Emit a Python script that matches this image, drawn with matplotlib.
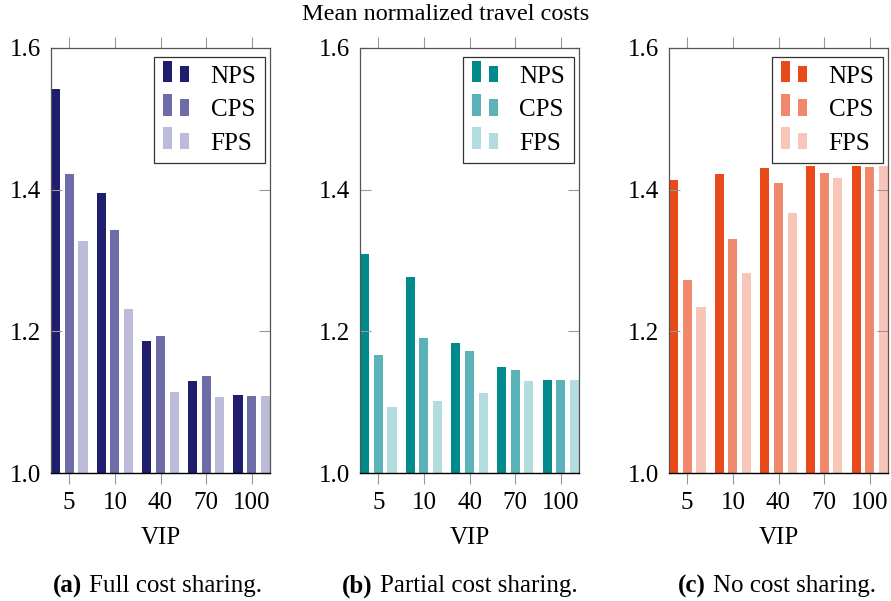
import matplotlib
matplotlib.use('Agg')
import matplotlib.pyplot as plt
import numpy as np
from matplotlib.legend_handler import HandlerBase
from matplotlib.patches import Rectangle

plt.rcParams['font.family'] = ['Liberation Serif', 'DejaVu Serif']

vip = ['5', '10', '40', '70', '100']
series = ['NPS', 'CPS', 'FPS']

full_nps = [1.542, 1.395, 1.187, 1.130, 1.110]
full_cps = [1.422, 1.343, 1.194, 1.137, 1.109]
full_fps = [1.328, 1.232, 1.115, 1.107, 1.108]

part_nps = [1.309, 1.277, 1.184, 1.150, 1.131]
part_cps = [1.166, 1.190, 1.172, 1.146, 1.131]
part_fps = [1.093, 1.101, 1.113, 1.130, 1.132]

none_nps = [1.413, 1.422, 1.431, 1.433, 1.433]
none_cps = [1.272, 1.331, 1.409, 1.423, 1.432]
none_fps = [1.234, 1.282, 1.367, 1.416, 1.434]

panels = [
    ('(a)', 'Full cost sharing.', [full_nps, full_cps, full_fps],
     ['#1f1d6e', '#6d6ca6', '#bcbbda']),
    ('(b)', 'Partial cost sharing.', [part_nps, part_cps, part_fps],
     ['#008a8c', '#5bb2b8', '#b3dcdf']),
    ('(c)', 'No cost sharing.', [none_nps, none_cps, none_fps],
     ['#e84a1a', '#f0896b', '#f8c6b8']),
]


class BarPair(HandlerBase):
    # pgfplots style ybar legend image: two small bars
    def create_artists(self, legend, orig_handle, xdescent, ydescent,
                       width, height, fontsize, trans):
        c = orig_handle.get_facecolor()
        w = width * 0.36
        r1 = Rectangle((-xdescent, -ydescent), w, height * 1.3,
                       fc=c, ec='none', transform=trans)
        r2 = Rectangle((-xdescent + width - w, -ydescent), w, height,
                       fc=c, ec='none', transform=trans)
        return [r1, r2]


fig = plt.figure(figsize=(8.91, 6.01), dpi=100)
lefts = [51, 360, 669]
cap_x = [53, 342, 678]
W, H = 891.0, 601.0
fs = 18

x = np.arange(len(vip))
for i, (tag, cap, vals, cols) in enumerate(panels):
    ax = fig.add_axes([lefts[i] / W, (H - 473) / H, 219 / W, 425 / H])
    bars = []
    for j, v in enumerate(vals):
        b = ax.bar(x + (j - 1) * 0.3, np.array(v) - 1.0, width=0.2, bottom=1.0,
                   color=cols[j], label=series[j])
        bars.append(b.patches[0])
    ax.set_xlim(-0.4, 4.4)
    ax.set_ylim(1.0, 1.6)
    ax.set_xticks(x)
    ax.set_xticklabels(vip)
    ax.set_yticks([1.0, 1.2, 1.4, 1.6])
    ax.set_yticklabels(['1.0', '1.2', '1.4', '1.6'])
    ax.tick_params(axis='x', direction='out', top=True, length=8, width=0.8,
                   color='#999999', labelsize=fs, pad=6)
    ax.tick_params(axis='y', direction='in', right=True, length=8, width=0.8,
                   color='#999999', labelsize=fs, pad=7)
    for s in ['left', 'right', 'top']:
        ax.spines[s].set_color('#555555')
        ax.spines[s].set_linewidth(0.9)
    ax.spines['bottom'].set_color('black')
    ax.spines['bottom'].set_linewidth(1.0)
    ax.set_xlabel('VIP', fontsize=fs, labelpad=9)
    leg = ax.legend(bars, series, loc='upper right', fontsize=fs,
                    bbox_to_anchor=(1 - 5 / 219, 1 - 9 / 425),
                    handler_map={Rectangle: BarPair()},
                    handlelength=1.05, handleheight=0.65, handletextpad=0.85,
                    labelspacing=0.45, borderaxespad=0, fancybox=False,
                    framealpha=1, edgecolor='#333333', borderpad=0.35)
    leg.get_frame().set_linewidth(0.9)

    t = fig.text(cap_x[i] / W, 1 - 586 / H, tag, fontsize=fs,
                 fontweight='bold', ha='left', va='center')
    ax.annotate(cap, xy=(1, 0.5), xycoords=t, xytext=(7, 0),
                textcoords='offset pixels', fontsize=fs, ha='left',
                va='center')

fig.text(0.5, 1 - 15 / H, 'Mean normalized travel costs', fontsize=17.5,
         ha='center', va='center')

fig.savefig('out.png', dpi=100)
